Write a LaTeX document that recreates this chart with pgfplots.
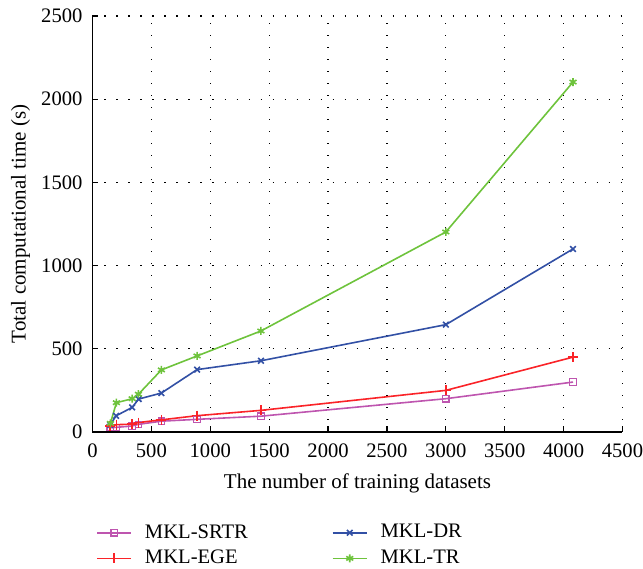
\documentclass[border=0pt]{standalone}
\usepackage{pgfplots}
\pgfplotsset{compat=1.18}
\usepackage{fontspec}
\setmainfont{Liberation Serif}
\definecolor{csrtr}{RGB}{190,85,175}
\definecolor{cege}{RGB}{250,35,40}
\definecolor{cdr}{RGB}{50,80,165}
\definecolor{ctr}{RGB}{110,195,60}
\begin{document}
\begin{tikzpicture}
\begin{axis}[
  width=265pt, height=208pt, scale only axis,
  xmin=0, xmax=4500, ymin=0, ymax=2500,
  xtick={0,500,...,4500}, ytick={0,500,...,2500},
  axis x line=bottom, axis y line=left,
  axis line style={-, line width=0.8pt},
  tick align=inside, tick style={black, line width=0.6pt},
  major tick length=3pt,
  xmajorgrids, ymajorgrids,
  grid style={black, line width=0.6pt, dash pattern=on 0.6pt off 5.4pt},
  /pgf/number format/assume math mode=true,
  /pgf/number format/1000 sep={},
  ticklabel style={font=\fontsize{10.3}{12}\selectfont},
  yticklabel style={xshift=-1.5pt},
  xticklabel style={yshift=-2.4pt},
  label style={font=\fontsize{10.5}{12}\selectfont},
  xlabel={The number of training datasets},
  ylabel={Total computational time (s)},
  xlabel style={yshift=-1.2pt},
  ylabel style={yshift=-1.25pt},
  legend columns=2,
  legend style={at={(-0.005,-0.202)}, anchor=north west, draw=none, fill=none,
    font=\fontsize{10.3}{12}\selectfont, row sep=0.5pt,
    /tikz/every odd column/.append style={column sep=4.5pt},
    /tikz/every even column/.append style={column sep=40pt}},
  legend cell align=left,
]
\coordinate (o) at (rel axis cs:0,0);
\coordinate (t) at (rel axis cs:1,1);
\addplot[color=csrtr, line width=0.8pt, mark=square, mark options={line width=0.6pt}, mark size=1.6pt] coordinates {
(150,26) (205,28) (335,36) (390,46) (585,65) (888,76) (1430,95) (3000,200) (4080,300)};
\addlegendentry{MKL-SRTR}
\addplot[color=cdr, line width=0.8pt, mark=x, mark size=2pt] coordinates {
(150,42) (200,97) (337,148) (392,198) (585,234) (888,375) (1430,428) (3000,645) (4080,1100)};
\addlegendentry{MKL-DR}
\addplot[color=cege, line width=0.8pt, mark=+, mark size=2.5pt] coordinates {
(150,35) (205,44) (335,47) (392,57) (585,73) (888,98) (1430,130) (3000,250) (4080,450)};
\addlegendentry{MKL-EGE}
\addplot[color=ctr, line width=0.8pt, mark=asterisk, mark size=2pt] coordinates {
(152,52) (203,176) (337,200) (390,227) (585,373) (888,457) (1430,607) (3000,1202) (4080,2103)};
\addlegendentry{MKL-TR}
\end{axis}
\pgfresetboundingbox
\useasboundingbox ([xshift=-46.25pt,yshift=-68.5pt]o) rectangle ([xshift=10.25pt,yshift=8pt]t);
\end{tikzpicture}
\end{document}
